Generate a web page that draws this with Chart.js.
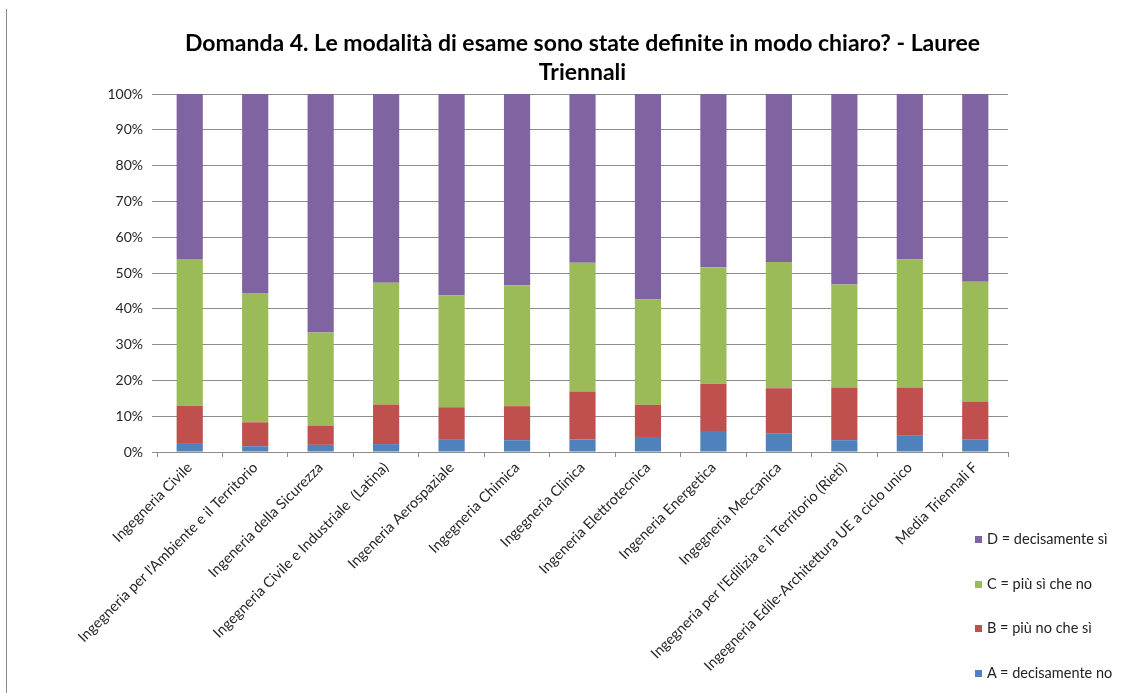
<!DOCTYPE html>
<html lang="it">
<head>
<meta charset="utf-8"/>
<title>Domanda 4 - Lauree Triennali</title>
<script src="https://cdn.jsdelivr.net/npm/chart.js"></script>
<style type="text/css">
    body { margin: 0; background: #fff; }
    #wrap { position: relative; width: 1129px; height: 693px; }
    #frame { position: absolute; left: 6px; top: 9px; bottom: 0; border-left: 1px solid #8a8a8a; }
    #legenda { position: absolute; left: 975px; top: 528px; font-family: Lato, sans-serif; font-size: 14.5px; color: #222; }
    #legenda div { height: 44.5px; line-height: 22px; white-space: nowrap; }
    #legenda span { display: inline-block; width: 7px; height: 7px; margin-right: 5px; vertical-align: 1px; }
</style>
</head>
<body>
<div id="wrap">
    <div id="frame"></div>
    <canvas id="grafico"></canvas>
    <div id="legenda"></div>
</div>
<script>
var corsi = [
    "Ingegneria Civile",
    "Ingegneria per l'Ambiente e il Territorio",
    "Ingeneria della Sicurezza",
    "Ingegneria Civile e Industriale  (Latina)",
    "Ingeneria Aerospaziale",
    "Ingegneria Chimica",
    "Ingegneria Clinica",
    "Ingeneria Elettrotecnica",
    "Ingeneria Energetica",
    "Ingegneria Meccanica",
    "Ingegneria per l'Edilizia e il Territorio (Rieti)",
    "Ingegneria Edile-Architettura UE a ciclo unico",
    "Media Triennali F"
];
// percentuali per risposta
var rispA = [2.5, 1.6, 2.0, 2.2, 3.4, 3.3, 3.5, 4.2, 5.9, 5.1, 3.3, 4.7, 3.4];
var rispB = [10.4, 6.7, 5.4, 11.1, 9.1, 9.5, 13.4, 9.0, 13.2, 12.7, 14.7, 13.3, 10.7];
var rispC = [41.0, 36.1, 26.0, 34.0, 31.2, 33.8, 36.0, 29.4, 32.5, 35.3, 28.8, 35.8, 33.5];
var rispD = [46.1, 55.6, 66.6, 52.7, 56.3, 53.4, 47.1, 57.4, 48.4, 46.9, 53.2, 46.2, 52.4];
var tickY = [0, 10, 20, 30, 40, 50, 60, 70, 80, 90, 100];

var griglia = '#8c8c8c';

var data = {
    labels: corsi,
    datasets: [
        { label: 'A = decisamente no', data: rispA, backgroundColor: '#4F81BD' },
        { label: 'B = più no che sì', data: rispB, backgroundColor: '#C0504D' },
        { label: 'C = più sì che no', data: rispC, backgroundColor: '#9BBB59' },
        { label: 'D = decisamente sì', data: rispD, backgroundColor: '#8064A2' }
    ]
};

var config = {
    type: 'bar',
    data: data,
    options: {
        responsive: true,
        maintainAspectRatio: false,
        animation: false,
        layout: { padding: { top: 30, right: 121, bottom: 0, left: 0 } },
        datasets: { bar: { barPercentage: 0.4, categoryPercentage: 1.0 } },
        plugins: {
            legend: { display: false },
            tooltip: { enabled: false },
            title: {
                display: true,
                fullSize: false,
                text: ['Domanda 4. Le modalità di esame sono state definite in modo chiaro? - Lauree', 'Triennali'],
                color: '#000',
                font: { family: 'Lato', size: 23, weight: 'bold', lineHeight: 1.22 },
                padding: { top: 0, bottom: 8 }
            }
        },
        scales: {
            x: {
                stacked: true,
                grid: { display: true, offset: true, drawOnChartArea: false, drawTicks: true, tickLength: 5, color: griglia },
                border: { display: true, color: griglia },
                ticks: {
                    autoSkip: false, maxRotation: 45, minRotation: 45, padding: 2,
                    color: '#262626', font: { family: 'Lato', size: 14.5 }
                },
                afterFit: function (scale) { scale.height = 241; }
            },
            y: {
                stacked: true,
                min: 0,
                max: 100,
                afterBuildTicks: function (scale) {
                    scale.ticks = tickY.map(function (v) { return { value: v }; });
                },
                grid: { color: griglia, drawTicks: true, tickLength: 5 },
                border: { display: false },
                ticks: {
                    padding: 9, color: '#262626', font: { family: 'Lato', size: 14 },
                    callback: function (v) { return v + '%'; }
                },
                afterFit: function (scale) { scale.width = 157; }
            }
        }
    }
};

var grafico = new Chart(document.getElementById('grafico'), config);

// legenda a destra, in ordine inverso come nell'originale
var legenda = document.getElementById('legenda');
data.datasets.slice().reverse().forEach(function (ds) {
    var riga = document.createElement('div');
    var quad = document.createElement('span');
    quad.style.background = ds.backgroundColor;
    riga.appendChild(quad);
    riga.appendChild(document.createTextNode(ds.label));
    legenda.appendChild(riga);
});
</script>
</body>
</html>
